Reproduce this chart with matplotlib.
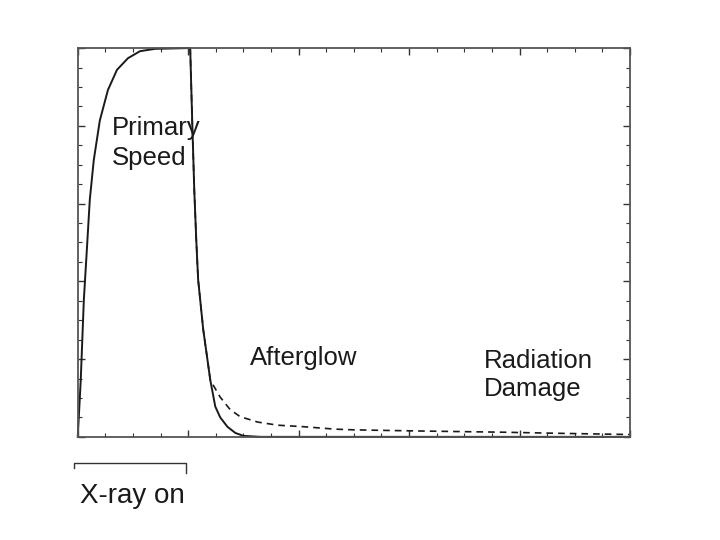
import matplotlib.pyplot as plt
from matplotlib.ticker import MultipleLocator

plt.rcParams["font.family"] = ["Liberation Sans", "DejaVu Sans"]

# solid curve: primary speed rise, then fast decay
solid_x = [0.0, 0.027, 0.055, 0.082, 0.109, 0.145, 0.20, 0.273, 0.355, 0.455,
           0.564, 0.70, 1.018, 1.036, 1.055, 1.073, 1.09, 1.136, 1.20, 1.245,
           1.29, 1.355, 1.427, 1.50, 1.655, 5.0]
solid_y = [0.0, 0.73, 1.76, 2.40, 3.05, 3.56, 4.07, 4.46, 4.72, 4.87,
           4.96, 4.99, 5.0, 4.07, 3.17, 2.53, 2.02, 1.38, 0.73, 0.39,
           0.25, 0.13, 0.05, 0.013, 0.0, 0.0]

# dashed curve: afterglow + radiation damage tail
dash_x = [1.018, 1.036, 1.055, 1.073, 1.09, 1.136, 1.20, 1.29, 1.38, 1.47,
          1.63, 1.81, 2.05, 2.32, 2.50, 3.11, 3.84, 4.38, 5.0]
dash_y = [5.0, 4.07, 3.17, 2.53, 2.02, 1.38, 0.73, 0.51, 0.35, 0.26,
          0.19, 0.15, 0.13, 0.10, 0.09, 0.075, 0.06, 0.045, 0.03]

fig = plt.figure(figsize=(7.2, 5.4), dpi=100)
ax = fig.add_axes([0.108, 0.191, 0.767, 0.72])

ink = "#1a1a1a"
ax.plot(solid_x, solid_y, color=ink, lw=1.4, clip_on=False)
ax.plot(dash_x, dash_y, color=ink, lw=1.2, ls=(0, (4, 3)), clip_on=False)

ax.set_xlim(0, 5)
ax.set_ylim(0, 5)
ax.xaxis.set_major_locator(MultipleLocator(1))
ax.xaxis.set_minor_locator(MultipleLocator(0.25))
ax.yaxis.set_major_locator(MultipleLocator(1))
ax.yaxis.set_minor_locator(MultipleLocator(0.25))
ax.tick_params(which="both", direction="in", top=True, right=True,
               labelbottom=False, labelleft=False, color="#333333")
ax.tick_params(which="major", length=5, width=1.0)
ax.tick_params(which="minor", length=3, width=0.8)
for s in ax.spines.values():
    s.set_color("#555555")
    s.set_linewidth(1.3)

fs = 18.5
ax.text(0.31, 3.78, "Primary\nSpeed", fontsize=fs, color=ink,
        ha="left", va="center", linespacing=1.3)
ax.text(1.56, 1.02, "Afterglow", fontsize=fs, color=ink,
        ha="left", va="center")
ax.text(3.68, 0.80, "Radiation\nDamage", fontsize=fs, color=ink,
        ha="left", va="center", linespacing=1.2)

# x-ray on bracket below the axis
ax.plot([-0.03, -0.03, 0.98, 0.98], [-0.40, -0.33, -0.33, -0.46],
        color="#333333", lw=1.0, clip_on=False)
ax.text(0.02, -0.76, "X-ray on", fontsize=20, color=ink,
        ha="left", va="center")

fig.savefig("out.png", dpi=100)
